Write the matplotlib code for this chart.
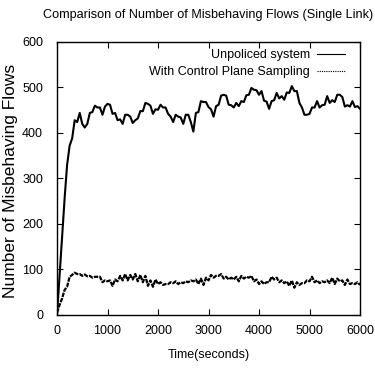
import numpy as np
import matplotlib
matplotlib.use('Agg')
import matplotlib.pyplot as plt

plt.rcParams['font.family'] = ['Liberation Sans', 'DejaVu Sans']

# time axis, one reading every 50 s
time_s = np.arange(0, 6001, 50)

unpoliced = [
    0, 85, 170, 255, 330, 372, 388, 428, 424, 444,
    420, 412, 420, 444, 446, 460, 456, 456, 440, 458,
    464, 462, 442, 444, 428, 430, 420, 440, 440, 436,
    422, 428, 432, 448, 448, 466, 464, 460, 442, 452,
    451, 462, 456, 456, 442, 436, 424, 440, 436, 434,
    420, 440, 440, 424, 403, 444, 446, 470, 468, 468,
    457, 452, 436, 459, 462, 482, 484, 482, 462, 461,
    456, 466, 459, 470, 468, 483, 484, 499, 495, 494,
    484, 492, 471, 469, 453, 470, 472, 488, 476, 481,
    473, 489, 488, 503, 492, 492, 466, 456, 440, 440,
    442, 456, 456, 470, 456, 461, 462, 481, 466, 472,
    468, 484, 484, 479, 458, 461, 458, 470, 457, 459,
    453,
]

sampling = [
    5, 22, 36, 55, 62, 84, 88, 93, 90, 90,
    86, 89, 85, 86, 82, 84, 84, 84, 72, 76,
    74, 76, 64, 78, 74, 86, 76, 90, 76, 88,
    78, 90, 74, 88, 72, 86, 64, 76, 62, 78,
    68, 72, 66, 68, 68, 72, 70, 74, 68, 72,
    70, 74, 72, 76, 74, 78, 68, 80, 66, 82,
    76, 88, 82, 86, 86, 90, 80, 84, 78, 82,
    78, 84, 74, 86, 80, 84, 82, 86, 74, 78,
    68, 74, 68, 72, 72, 84, 78, 82, 72, 76,
    70, 74, 64, 76, 60, 72, 66, 70, 70, 76,
    74, 84, 72, 76, 70, 74, 72, 76, 70, 82,
    68, 80, 74, 76, 66, 78, 68, 70, 68, 72,
    66,
]

fig = plt.figure(figsize=(3.75, 3.73), dpi=100)
ax = fig.add_axes([0.152, 0.1555, 0.808, 0.732])

ax.plot(time_s, unpoliced, '-', color='black', lw=1.5, label='Unpoliced system')
ax.plot(time_s, sampling, linestyle=(0, (2, 0.5)), color='black', lw=1.6,
        label='With Control Plane Sampling')

ax.set_xlim(0, 6000)
ax.set_ylim(0, 600)
ax.set_xticks(range(0, 6001, 1000))
ax.set_yticks(range(0, 601, 100))
ax.tick_params(direction='in', length=4, width=0.8, top=True, right=True,
               labelsize=9)
ax.tick_params(axis='x', pad=7)
ax.tick_params(axis='y', pad=10)
for sp in ax.spines.values():
    sp.set_linewidth(1.0)

ax.set_xlabel('Time(seconds)', fontsize=9, labelpad=9)
ax.set_ylabel('Number of Misbehaving Flows', fontsize=12.5)
ax.yaxis.set_label_coords(-0.128, 0.49)
ax.set_title('Comparison of Number of Misbehaving Flows (Single Link)',
             fontsize=9.1, pad=17)

leg = ax.legend(loc='upper right', bbox_to_anchor=(0.975, 1.0), frameon=False,
                markerfirst=False, fontsize=9, handlelength=2.2,
                borderaxespad=0.2, labelspacing=0.4, handletextpad=0.6)
for t in leg.get_texts():
    t.set_ha('right')
for h in leg.get_lines():
    h.set_linewidth(0.8)
leg.get_lines()[1].set_linestyle((0, (1, 1)))

fig.savefig('out.png', dpi=100)
